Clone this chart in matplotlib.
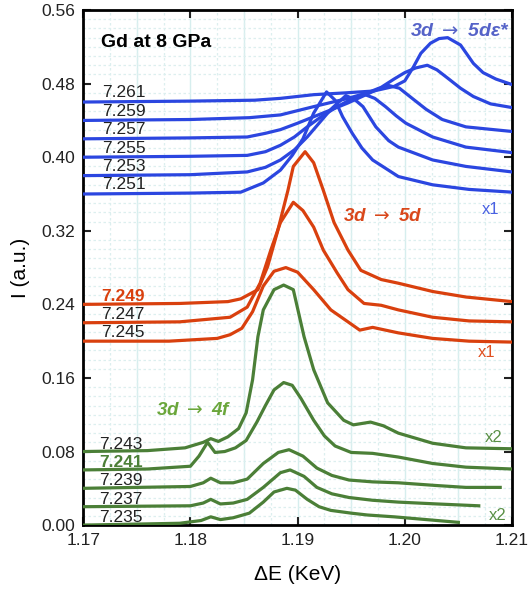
import matplotlib
matplotlib.use("Agg")
import matplotlib.pyplot as plt
from matplotlib.ticker import MultipleLocator

plt.rcParams['font.family'] = ['Liberation Sans', 'DejaVu Sans']

# Green curves (3d -> 4f), x2
x35 = [1.170, 1.179, 1.181, 1.1819, 1.1828, 1.184, 1.1855, 1.1868, 1.1878, 1.189, 1.1898, 1.1909, 1.1920, 1.1931, 1.195, 1.1965, 1.199, 1.202, 1.205]
y35 = [0.000, 0.002, 0.005, 0.009, 0.006, 0.008, 0.013, 0.025, 0.036, 0.040, 0.038, 0.028, 0.020, 0.016, 0.013, 0.011, 0.009, 0.006, 0.003]
x37 = [1.170, 1.180, 1.1812, 1.1819, 1.1828, 1.184, 1.1853, 1.1868, 1.1884, 1.1893, 1.1906, 1.1918, 1.1932, 1.1948, 1.197, 1.1994, 1.203, 1.2069]
y37 = [0.020, 0.021, 0.024, 0.028, 0.023, 0.024, 0.028, 0.041, 0.057, 0.060, 0.053, 0.041, 0.034, 0.030, 0.027, 0.025, 0.023, 0.021]
x39 = [1.170, 1.180, 1.1812, 1.1819, 1.1828, 1.184, 1.1853, 1.1868, 1.1882, 1.1892, 1.1905, 1.1918, 1.1932, 1.1948, 1.197, 1.1994, 1.203, 1.2057, 1.2089]
y39 = [0.040, 0.042, 0.046, 0.051, 0.046, 0.046, 0.050, 0.067, 0.079, 0.082, 0.075, 0.062, 0.054, 0.049, 0.047, 0.046, 0.043, 0.041, 0.041]
x41 = [1.170, 1.176, 1.1800, 1.1808, 1.1816, 1.1823, 1.1832, 1.1842, 1.1852, 1.1862, 1.1870, 1.1878, 1.1887, 1.1895, 1.1903, 1.1915, 1.1925, 1.1935, 1.195, 1.197, 1.1994, 1.2026, 1.2057, 1.210]
y41 = [0.060, 0.061, 0.064, 0.075, 0.090, 0.079, 0.080, 0.084, 0.092, 0.112, 0.130, 0.147, 0.155, 0.152, 0.138, 0.114, 0.097, 0.086, 0.079, 0.078, 0.074, 0.067, 0.063, 0.061]
x43 = [1.170, 1.176, 1.1795, 1.1812, 1.1819, 1.1826, 1.1835, 1.1845, 1.1852, 1.1858, 1.1863, 1.1868, 1.1878, 1.1887, 1.1896, 1.1906, 1.1915, 1.1928, 1.1943, 1.1952, 1.1968, 1.1980, 1.1994, 1.2026, 1.2057, 1.210]
y43 = [0.080, 0.081, 0.084, 0.090, 0.094, 0.091, 0.096, 0.105, 0.122, 0.158, 0.205, 0.234, 0.256, 0.261, 0.256, 0.205, 0.169, 0.133, 0.114, 0.109, 0.112, 0.108, 0.100, 0.089, 0.084, 0.083]

# Red curves (3d -> 5d), x1
x45 = [1.170, 1.178, 1.1825, 1.1837, 1.1848, 1.1858, 1.1868, 1.1878, 1.1889, 1.1900, 1.1915, 1.1931, 1.1947, 1.1958, 1.1970, 1.1994, 1.2026, 1.206, 1.210]
y45 = [0.200, 0.200, 0.203, 0.207, 0.214, 0.232, 0.260, 0.276, 0.280, 0.275, 0.256, 0.234, 0.221, 0.212, 0.215, 0.209, 0.203, 0.200, 0.199]
x47 = [1.170, 1.179, 1.1837, 1.1853, 1.1865, 1.1875, 1.1884, 1.1896, 1.1905, 1.1915, 1.1924, 1.1937, 1.1947, 1.1962, 1.1978, 1.1994, 1.2026, 1.206, 1.210]
y47 = [0.220, 0.221, 0.226, 0.237, 0.263, 0.299, 0.329, 0.351, 0.342, 0.324, 0.299, 0.274, 0.256, 0.241, 0.239, 0.234, 0.226, 0.222, 0.221]
x49 = [1.170, 1.179, 1.1835, 1.1847, 1.1863, 1.1872, 1.1881, 1.1891, 1.1896, 1.1907, 1.1915, 1.1924, 1.1934, 1.1947, 1.1959, 1.1978, 1.1994, 1.2026, 1.2057, 1.210]
y49 = [0.240, 0.241, 0.243, 0.246, 0.256, 0.281, 0.318, 0.364, 0.390, 0.406, 0.394, 0.364, 0.329, 0.299, 0.277, 0.267, 0.263, 0.254, 0.248, 0.243]

# Blue curves (3d -> 5d eps*), x1
x51 = [1.170, 1.180, 1.1847, 1.1868, 1.1884, 1.1895, 1.1905, 1.1915, 1.1927, 1.1935, 1.1942, 1.1951, 1.1960, 1.197, 1.1994, 1.2026, 1.206, 1.210]
y51 = [0.360, 0.361, 0.362, 0.372, 0.386, 0.402, 0.420, 0.448, 0.471, 0.462, 0.444, 0.426, 0.410, 0.397, 0.379, 0.370, 0.365, 0.362]
x53 = [1.170, 1.180, 1.1853, 1.1870, 1.1884, 1.1897, 1.1909, 1.1920, 1.1931, 1.1945, 1.1953, 1.1961, 1.1973, 1.1985, 1.1994, 1.2026, 1.2057, 1.210]
y53 = [0.380, 0.381, 0.384, 0.389, 0.397, 0.408, 0.422, 0.437, 0.452, 0.467, 0.463, 0.455, 0.433, 0.418, 0.411, 0.397, 0.390, 0.384]
x55 = [1.170, 1.180, 1.1853, 1.1870, 1.1884, 1.1897, 1.1909, 1.1922, 1.1937, 1.1950, 1.1963, 1.1972, 1.1982, 1.1992, 1.2001, 1.2026, 1.2057, 1.210]
y55 = [0.400, 0.401, 0.402, 0.406, 0.413, 0.422, 0.433, 0.444, 0.455, 0.463, 0.468, 0.464, 0.455, 0.445, 0.437, 0.422, 0.411, 0.405]
x57 = [1.170, 1.180, 1.1853, 1.1870, 1.1884, 1.1900, 1.1915, 1.1930, 1.1947, 1.1962, 1.1975, 1.1985, 1.1995, 1.2008, 1.2020, 1.2035, 1.2057, 1.210]
y57 = [0.420, 0.421, 0.422, 0.426, 0.430, 0.437, 0.444, 0.451, 0.459, 0.467, 0.474, 0.478, 0.475, 0.463, 0.452, 0.441, 0.433, 0.428]
x59 = [1.170, 1.180, 1.1855, 1.1884, 1.1915, 1.1947, 1.1965, 1.1978, 1.1990, 1.2000, 1.2010, 1.2021, 1.2030, 1.2040, 1.2052, 1.2064, 1.2080, 1.210]
y59 = [0.440, 0.441, 0.443, 0.446, 0.455, 0.464, 0.470, 0.476, 0.485, 0.492, 0.497, 0.500, 0.495, 0.486, 0.475, 0.466, 0.458, 0.454]
x61 = [1.170, 1.180, 1.1860, 1.1884, 1.1915, 1.1945, 1.1971, 1.1990, 1.2000, 1.2008, 1.2015, 1.2024, 1.2032, 1.2040, 1.2052, 1.2064, 1.2073, 1.2085, 1.210]
y61 = [0.460, 0.461, 0.462, 0.464, 0.468, 0.470, 0.472, 0.477, 0.483, 0.498, 0.513, 0.524, 0.529, 0.530, 0.522, 0.502, 0.492, 0.485, 0.479]

green_curves = [(x35, y35), (x37, y37), (x39, y39), (x41, y41), (x43, y43)]
red_curves = [(x45, y45), (x47, y47), (x49, y49)]
blue_curves = [(x51, y51), (x53, y53), (x55, y55), (x57, y57), (x59, y59), (x61, y61)]

green_labels = ["7.235", "7.237", "7.239", "7.241", "7.243"]
red_labels = ["7.245", "7.247", "7.249"]
blue_labels = ["7.251", "7.253", "7.255", "7.257", "7.259", "7.261"]

BLUE = "#2b46e0"
RED = "#d9400e"
GREEN = "#4b7f37"

fig = plt.figure(figsize=(5.3, 5.92), dpi=100)
ax = fig.add_axes([0.157, 0.113, 0.809, 0.870])

# Grid
ax.xaxis.set_major_locator(MultipleLocator(0.01))
ax.xaxis.set_minor_locator(MultipleLocator(0.0025))
ax.yaxis.set_major_locator(MultipleLocator(0.08))
ax.yaxis.set_minor_locator(MultipleLocator(0.01))
for xv in [1.175, 1.18, 1.185, 1.19, 1.195, 1.20, 1.205]:
    ax.axvline(xv, color="#d6eeee", lw=1.0, zorder=0)
ax.grid(which="minor", color="#dcefef", lw=0.9, ls=(0, (2, 2)), zorder=0)

# Draw the curves with their labels
for (xs, ys), lab in zip(green_curves, green_labels):
    ax.plot(xs, ys, color=GREEN, lw=2.3, zorder=3)
    bold = lab == "7.241"
    ax.text(1.1715, ys[0] + 0.008, lab, fontsize=12.5, va="center", ha="left",
            color=GREEN if bold else "#222222",
            fontweight="bold" if bold else "normal", zorder=4)
for (xs, ys), lab in zip(red_curves, red_labels):
    ax.plot(xs, ys, color=RED, lw=2.3, zorder=3)
    bold = lab == "7.249"
    ax.text(1.1717, ys[0] + 0.009, lab, fontsize=12.5, va="center", ha="left",
            color=RED if bold else "#222222",
            fontweight="bold" if bold else "normal", zorder=4)
for (xs, ys), lab in zip(blue_curves, blue_labels):
    ax.plot(xs, ys, color=BLUE, lw=2.3, zorder=3)
    ax.text(1.1718, ys[0] + 0.010, lab, fontsize=12.5, va="center", ha="left",
            color="#222222", zorder=4)

# Annotations
arrow = r" $\rightarrow$ "
ax.text(1.1717, 0.525, "Gd at 8 GPa", fontsize=14, fontweight="bold", va="center")
ax.text(1.2098, 0.537, "3d" + arrow + "5d\u03b5*", fontsize=14, fontweight="bold",
        style="italic", color="#5563c8", ha="right", va="center")
ax.text(1.1942, 0.335, "3d" + arrow + "5d", fontsize=13.5, fontweight="bold",
        style="italic", color="#d9471a", ha="left", va="center")
ax.text(1.1768, 0.125, "3d" + arrow + "4f", fontsize=13.5, fontweight="bold",
        style="italic", color="#6aa63a", ha="left", va="center")
ax.text(1.2072, 0.343, "x1", fontsize=12, color="#4a62e2", va="center")
ax.text(1.2068, 0.188, "x1", fontsize=12, color="#e05020", va="center")
ax.text(1.2075, 0.095, "x2", fontsize=12, color="#5a9046", va="center")
ax.text(1.2078, 0.010, "x2", fontsize=12, color="#5a9046", va="center")

ax.set_xlim(1.17, 1.21)
ax.set_ylim(0.0, 0.56)
ax.set_xticks([1.17, 1.18, 1.19, 1.20, 1.21])
ax.set_xticklabels(["1.17", "1.18", "1.19", "1.20", "1.21"])
ax.set_yticks([0.0, 0.08, 0.16, 0.24, 0.32, 0.40, 0.48, 0.56])
ax.set_yticklabels(["0.00", "0.08", "0.16", "0.24", "0.32", "0.40", "0.48", "0.56"])
ax.tick_params(which="major", direction="in", length=6, width=1.5,
               top=True, right=True, labelsize=12.5, pad=6, colors="#222222")
ax.tick_params(which="minor", length=0)
for s in ax.spines.values():
    s.set_linewidth(2.0)

ax.set_xlabel("\u0394E (KeV)", fontsize=15, labelpad=12)
ax.set_ylabel("I (a.u.)", fontsize=15, labelpad=8)

fig.savefig("out.png", dpi=100)
